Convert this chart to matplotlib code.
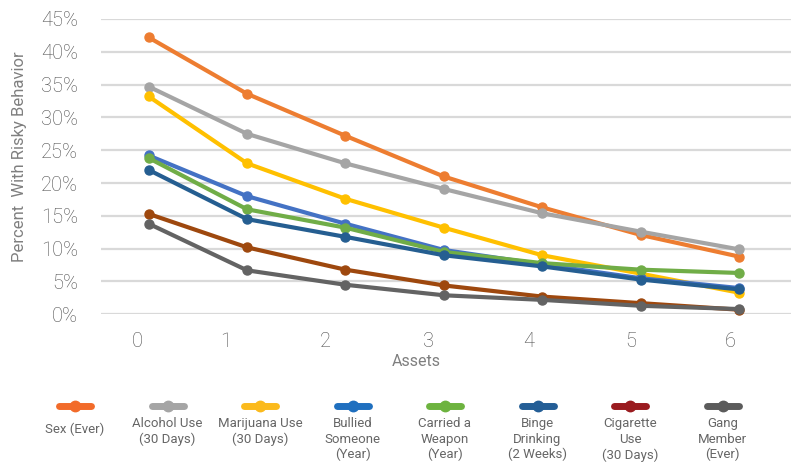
import matplotlib.pyplot as plt
from matplotlib.lines import Line2D

plt.rcParams['font.family'] = ['Roboto', 'DejaVu Sans']

assets = [0, 1, 2, 3, 4, 5, 6]

sex_ever = [42.2, 33.6, 27.2, 21.0, 16.3, 12.1, 8.8]
alcohol = [34.7, 27.5, 23.0, 19.1, 15.4, 12.6, 9.9]
marijuana = [33.2, 23.0, 17.6, 13.2, 9.0, 6.2, 3.3]
bullied = [24.2, 18.0, 13.8, 9.8, 7.6, 5.5, 4.0]
weapon = [23.8, 16.0, 13.2, 9.5, 7.8, 6.8, 6.3]
binge = [22.0, 14.5, 11.8, 9.0, 7.3, 5.3, 3.8]
cigarette = [15.3, 10.2, 6.8, 4.4, 2.7, 1.7, 0.7]
gang = [13.8, 6.7, 4.5, 2.9, 2.2, 1.3, 0.8]

labels = ['Sex (Ever)', 'Alcohol Use\n(30 Days)', 'Marijuana Use\n(30 Days)',
          'Bullied\nSomeone\n(Year)', 'Carried a\nWeapon\n(Year)',
          'Binge\nDrinking\n(2 Weeks)', 'Cigarette\nUse\n(30 Days)', 'Gang\nMember\n(Ever)']
series = [sex_ever, alcohol, marijuana, bullied, weapon, binge, cigarette, gang]
line_colors = ['#ED7D31', '#A5A5A5', '#FFC000', '#4472C4',
               '#70AD47', '#255E91', '#9E480E', '#636363']
key_colors = ['#F26B2A', '#A5A5A5', '#FBBA1C', '#1F6FBF',
              '#6DB33F', '#245E96', '#9A1B1F', '#5B5B5B']

yticks = [0, 5, 10, 15, 20, 25, 30, 35, 40, 45]
xtick_labels = ['0', '1', '2', '3', '4', '5', '6']
# label spots along the axis (they sit a little off the category centres)
xtick_pos = [-0.12, 0.78, 1.80, 2.84, 3.86, 4.90, 5.91]

W, H = 796, 469
fig = plt.figure(figsize=(W / 100, H / 100), dpi=100)
ax = fig.add_axes([101 / W, 1 - 314.3 / H, (791 - 101) / W, (314.3 - 19) / H])

for vals, c in zip(series, line_colors):
    ax.plot(assets, vals, color=c, lw=3.0, marker='o', ms=6.5, clip_on=False,
            solid_joinstyle='round', solid_capstyle='round')

ax.set_xlim(-0.485, 6.53)
ax.set_ylim(0, 45)
ax.set_yticks(yticks)
ax.set_yticklabels([f'{v}%' for v in yticks])
ax.set_xticks(xtick_pos)
ax.set_xticklabels(xtick_labels)
ax.grid(axis='y', color='#D9D9D9', lw=1.6)
ax.set_axisbelow(True)
for s in ax.spines.values():
    s.set_visible(False)
ax.tick_params(length=0, labelsize=14.5, colors='#4D4D4D')
for t in ax.get_xticklabels() + ax.get_yticklabels():
    t.set_fontweight('light')
ax.tick_params(axis='y', pad=50 / 3)
ax.tick_params(axis='x', pad=13)

fig.text(416.7 / W, 1 - 361.7 / H, 'Assets', ha='center', va='center',
         fontsize=11.5, color='#7F7F7F')
fig.text(20 / W, 1 - 157 / H, 'Percent  With Risky Behavior', rotation=90,
         ha='center', va='center', fontsize=12, color='#7F7F7F')

# legend row: short line with a dot, caption underneath
for i, (lab, c) in enumerate(zip(labels, key_colors)):
    cx = 75 + i * 92.5
    fig.add_artist(Line2D([(cx - 16) / W, (cx + 16) / W], [1 - 406 / H] * 2,
                          color=c, lw=5, solid_capstyle='round'))
    fig.add_artist(Line2D([cx / W], [1 - 406 / H], color=c, marker='o', ms=7.5))
    top = 423 if i == 0 else 417
    fig.text(cx / W, 1 - top / H, lab, ha='center', va='top', fontsize=9.5,
             color='#666666', linespacing=1.25)

fig.savefig('out.png', dpi=100)
